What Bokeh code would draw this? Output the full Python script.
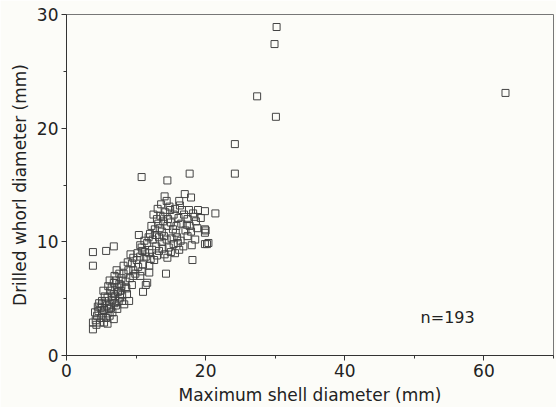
from bokeh.plotting import figure
from bokeh.models import ColumnDataSource, Range1d, FixedTicker, Label
from bokeh.embed import file_html
from bokeh.resources import INLINE

# Maximum shell diameter (mm)
shell_x = [
    30.2, 29.9, 27.4, 30.1, 24.2, 24.2, 63.1,
    10.8, 14.5, 17.7, 14.1, 14.4, 17.0, 17.9, 14.8, 14.9, 16.3, 13.1, 18.9, 19.9,
    21.4, 18.2, 18.4, 17.4, 15.4, 13.5, 13.9, 13.0, 13.2, 14.5, 16.5, 17.3, 17.7,
    12.7, 12.0, 13.7, 15.7, 10.4, 17.1, 19.9, 19.9, 17.4, 13.3, 12.4, 10.6, 10.8,
    11.6, 13.7, 14.7, 15.4, 16.0, 18.0, 19.9, 20.4, 15.0, 15.6, 14.5, 18.1, 12.6,
    11.9, 11.3, 11.4, 10.6, 9.2, 9.6, 11.9, 11.0, 10.3, 9.6, 8.9, 8.2, 7.6, 8.2,
    9.6, 11.9, 14.3, 10.8, 11.4, 11.6, 11.0, 3.8, 3.8, 5.7, 6.8, 6.8, 7.1,
    7.3, 7.8, 8.7, 9.0, 8.0, 7.5, 6.3, 5.9, 5.1, 4.9, 5.4, 5.9, 4.4, 5.4, 6.8,
    3.8, 3.8, 4.2, 5.1, 6.3, 7.1, 6.1, 8.0, 6.8, 20.0, 20.2,
    12.2, 12.8, 13.4, 13.9, 14.2, 14.6, 15.0, 15.3, 15.8, 16.1, 16.6, 16.9, 14.0,
    14.4, 15.1, 15.9, 16.4, 16.8, 12.9, 13.3, 13.8, 12.3, 11.8, 11.2, 12.5, 13.6,
    15.6, 16.2, 17.6, 18.6, 18.8, 19.3, 17.9, 18.5, 16.2, 14.1, 13.0, 12.1, 10.9,
    10.2,
    8.5, 9.1, 9.9, 10.6, 8.8, 7.9, 7.2, 9.4, 10.1, 8.5, 7.6, 9.4, 6.5, 6.2, 6.9,
    4.6, 5.0, 5.7, 6.2, 4.7, 5.5, 5.8, 6.6, 7.0, 7.4, 6.5, 4.3, 4.8, 5.9, 6.6,
    7.3, 8.3, 8.6, 5.3, 6.0, 4.5, 5.2, 6.9, 7.7, 5.6, 6.4, 4.1, 7.9,
]

# Drilled whorl diameter (mm)
whorl_y = [
    28.9, 27.4, 22.8, 21.0, 18.6, 16.0, 23.1,
    15.7, 15.4, 16.0, 14.0, 13.6, 14.2, 13.9, 13.1, 12.8, 13.2, 12.9, 12.8, 12.7,
    12.5, 12.5, 12.2, 12.0, 12.4, 12.3, 12.2, 12.0, 11.6, 11.4, 11.6, 11.5, 11.4,
    11.1, 10.7, 10.9, 10.8, 10.6, 11.0, 11.1, 10.8, 10.5, 10.4, 10.2, 9.7, 9.5,
    9.9, 10.0, 9.5, 9.8, 9.9, 9.7, 9.8, 9.9, 9.1, 9.0, 8.6, 8.4, 8.4,
    9.0, 9.1, 8.7, 8.7, 8.9, 8.6, 7.9, 8.0, 7.8, 7.5, 7.5, 7.2, 7.2, 7.9,
    7.0, 7.3, 7.2, 7.4, 6.2, 6.4, 5.6, 9.1, 7.9, 9.2, 9.6, 6.4, 6.6,
    6.0, 5.7, 5.4, 4.8, 4.8, 4.8, 5.7, 5.1, 4.5, 4.2, 4.0, 3.7, 3.5, 2.9, 3.2,
    2.3, 2.9, 3.1, 4.8, 4.5, 4.4, 4.1, 5.3, 5.4, 11.0, 9.8,
    11.4, 10.6, 11.2, 11.8, 12.6, 12.0, 11.7, 11.1, 11.4, 12.1, 12.8, 12.4, 10.5,
    10.2, 10.3, 10.4, 10.1, 9.6, 9.6, 9.2, 9.4, 9.3, 10.4, 10.1, 12.4, 13.3,
    12.9, 13.6, 12.8, 11.8, 11.2, 12.1, 10.9, 10.2, 9.3, 8.9, 8.8, 8.5, 9.2,
    9.0,
    6.5, 6.8, 7.2, 7.0, 8.2, 6.8, 7.5, 8.1, 8.4, 6.0, 6.3, 6.2, 6.0, 6.6, 7.0,
    3.9, 3.3, 3.3, 3.5, 4.6, 5.2, 4.4, 4.9, 5.2, 5.6, 5.2, 2.7, 2.9, 2.8, 3.8,
    4.1, 4.5, 5.9, 5.7, 6.1, 4.3, 3.7, 4.6, 5.1, 4.8, 4.2, 3.8, 6.1,
]

x_ticks = [0, 20, 40, 60]
y_ticks = [0, 10, 20, 30]
n_label = "n=193"
x_title = "Maximum shell diameter (mm)"
y_title = "Drilled whorl diameter (mm)"

FONT = "DejaVu Sans"
BG = "#fcfcf8"
INK = "#333333"

src = ColumnDataSource(dict(x=shell_x, y=whorl_y))

p = figure(
    output_backend="svg", toolbar_location=None,
    frame_width=487, frame_height=341,
    min_border_left=66, min_border_top=14, min_border_right=3, min_border_bottom=50,
    x_range=Range1d(0, 70), y_range=Range1d(0, 30),
    background_fill_color=BG, border_fill_color=BG,
)
p.grid.visible = False
p.outline_line_color = "#777777"
p.outline_line_width = 1

p.scatter("x", "y", source=src, marker="square", size=7,
          fill_color=None, line_color="#444444", line_width=1)

p.xaxis.ticker = FixedTicker(ticks=x_ticks, minor_ticks=[10, 30, 50, 70])
p.yaxis.ticker = FixedTicker(ticks=y_ticks, minor_ticks=[5, 15, 25])

for ax in (p.xaxis[0], p.yaxis[0]):
    ax.axis_line_color = INK
    ax.axis_line_width = 1
    ax.major_tick_line_color = INK
    ax.minor_tick_line_color = INK
    ax.major_tick_in = 0
    ax.major_tick_out = 5
    ax.minor_tick_in = 0
    ax.minor_tick_out = 3
    ax.major_label_text_font = FONT
    ax.major_label_text_font_size = "17px"
    ax.major_label_text_color = "#222222"
    ax.axis_label_text_font = FONT
    ax.axis_label_text_font_size = "17px"
    ax.axis_label_text_font_style = "normal"
    ax.axis_label_text_color = "#222222"

p.xaxis.axis_label = x_title
p.yaxis.axis_label = y_title
p.xaxis.major_label_standoff = 3
p.yaxis.major_label_standoff = 3
p.xaxis.axis_label_standoff = 5
p.yaxis.axis_label_standoff = 4

p.add_layout(Label(x=50.9, y=3.3, text=n_label, text_font=FONT,
                   text_font_size="16px", text_color="#222222",
                   text_baseline="middle", text_align="left"))

open("out.html", "w").write(file_html(p, INLINE))
